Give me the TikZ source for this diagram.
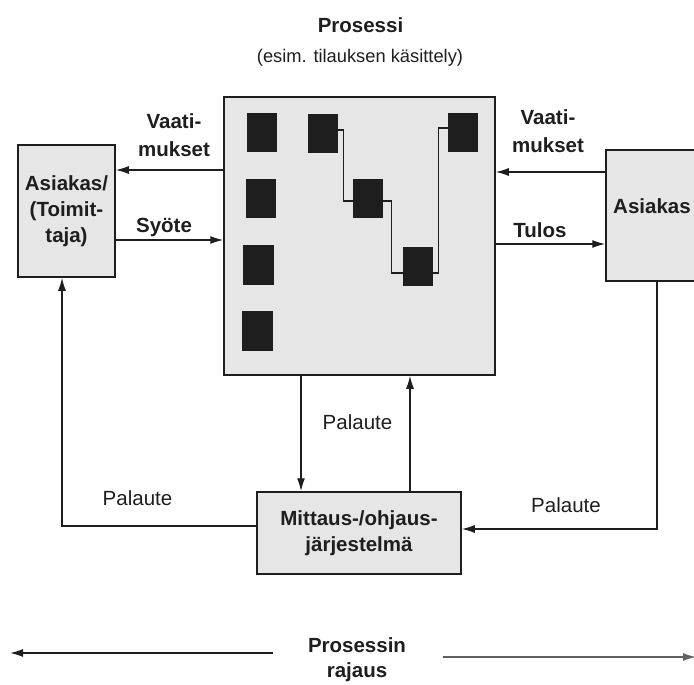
\documentclass[tikz,border=0pt]{standalone}
\usepackage{fontspec}
\setmainfont{Liberation Sans}
\usetikzlibrary{arrows.meta}
\definecolor{ink}{HTML}{1E1E1E}
\definecolor{boxfill}{HTML}{E6E6E6}
\newcommand\boldlab{\fontsize{20.5}{26}\selectfont\bfseries}
\newcommand\boldpair{\fontsize{20.5}{28}\selectfont\bfseries}
\newcommand\plainlab{\fontsize{20.5}{25}\selectfont}
\newcommand\sublab{\fontsize{18.3}{22}\selectfont}
\begin{document}
\begin{tikzpicture}[x=1pt,y=-1pt,
  block/.style={draw=ink, line width=1.5pt, fill=boxfill, inner sep=0pt,
                align=center, font=\boldlab, text=ink},
  chip/.style={fill=ink, draw=none, minimum width=30pt, minimum height=39pt, inner sep=0pt},
  wire/.style={draw=ink, line width=1.1pt},
  flow/.style={draw=ink, line width=1.3pt, -{Latex[length=13pt,width=8pt]}},
  lbl/.style={font=\boldlab, text=ink, align=center, inner sep=0pt},
  pair/.style={font=\boldpair, text=ink, align=center, inner sep=0pt},
  note/.style={font=\plainlab, text=ink, align=center, inner sep=0pt}]

\useasboundingbox (0,0) rectangle (694,685);
\clip (0,0) rectangle (694,685);

% headings
\node[lbl, anchor=base] (title) at (360.5,33) {Prosessi};
\node[note, font=\sublab, anchor=base] (subtitle) at (360,63) {(esim. tilauksen käsittely)};

% main blocks
\node[block, minimum width=271pt, minimum height=278pt] (proc) at (359.5,236) {};
\node[block, minimum width=97pt, minimum height=132pt] (cust) at (66.5,211) {Asiakas/\\(Toimit-\\taja)};
\node[block, minimum width=154pt, minimum height=131pt] (client) at (683,215.5) {};
\node[lbl, anchor=base west] (clientname) at (613,213) {Asiakas};
\node[block, minimum width=204pt, minimum height=82pt] (meas) at (359,533) {Mittaus-/ohjaus-\\järjestelmä};

% process steps
\node[chip] (c1) at (262,132.5) {};
\node[chip] (c2) at (261,198.5) {};
\node[chip, minimum width=31pt, minimum height=40pt] (c3) at (258.5,265) {};
\node[chip, minimum width=31pt, minimum height=40pt] (c4) at (257.5,331) {};
\node[chip] (c5) at (323,133.5) {};
\node[chip] (c6) at (368,198.5) {};
\node[chip] (c7) at (418,266.5) {};
\node[chip] (c8) at (463,132.5) {};

\draw[wire] ([yshift=3.5pt]c5.east) -- ++(5,0) |- ([yshift=-2.5pt]c6.west);
\draw[wire] ([yshift=-2.5pt]c6.east) -- ++(8,0) |- ([yshift=-6.5pt]c7.west);
\draw[wire] ([yshift=-6.5pt]c7.east) -- ++(5,0) |- ([yshift=4.5pt]c8.west);

% reference heights and columns for the connectors
\coordinate (reqL) at (0,170);
\coordinate (inL) at (0,240);
\coordinate (reqR) at (0,172);
\coordinate (outR) at (0,244);
\coordinate (fbL) at (0,526);
\coordinate (fbR) at (0,529);
\coordinate (downX) at (301,0);
\coordinate (upX) at (410,0);
\coordinate (leftX) at (62,0);
\coordinate (rightX) at (657,0);

% flows between the blocks
\draw[flow] (proc.west |- reqL) -- (cust.east |- reqL);
\draw[flow] (cust.east |- inL) -- (proc.west |- inL);
\draw[flow] (client.west |- reqR) -- (proc.east |- reqR);
\draw[flow] (proc.east |- outR) -- (client.west |- outR);
\draw[flow] (proc.south -| downX) -- (meas.north -| downX);
\draw[flow] (meas.north -| upX) -- (proc.south -| upX);
\draw[flow] (meas.west |- fbL) -| (cust.south -| leftX);
\draw[flow] (client.south -| rightX) |- (meas.east |- fbR);

% flow labels
\node[pair] (reqLtxt) at (174,135.5) {Vaati-\\mukset};
\node[pair] (reqRtxt) at (548,131) {Vaati-\\mukset};
\node[lbl, anchor=base] (intxt) at (164,232) {Syöte};
\node[lbl, anchor=base] (outtxt) at (540,237) {Tulos};
\node[note, anchor=base] (fbC) at (357.5,429) {Palaute};
\node[note, anchor=base] (fbLtxt) at (137.5,505) {Palaute};
\node[note, anchor=base] (fbRtxt) at (566,512) {Palaute};

% process boundary
\node[pair, font=\fontsize{20.5}{25}\selectfont\bfseries] (scope) at (357,660) {Prosessin\\rajaus};
\coordinate (limL) at (273,653);
\coordinate (endL) at (10,653);
\coordinate (limR) at (443,657);
\coordinate (endR) at (696,657);
\draw[flow] (limL) -- (endL);
\draw[flow, draw=ink!70, fill=ink!70] (limR) -- (endR);
\end{tikzpicture}
\end{document}
